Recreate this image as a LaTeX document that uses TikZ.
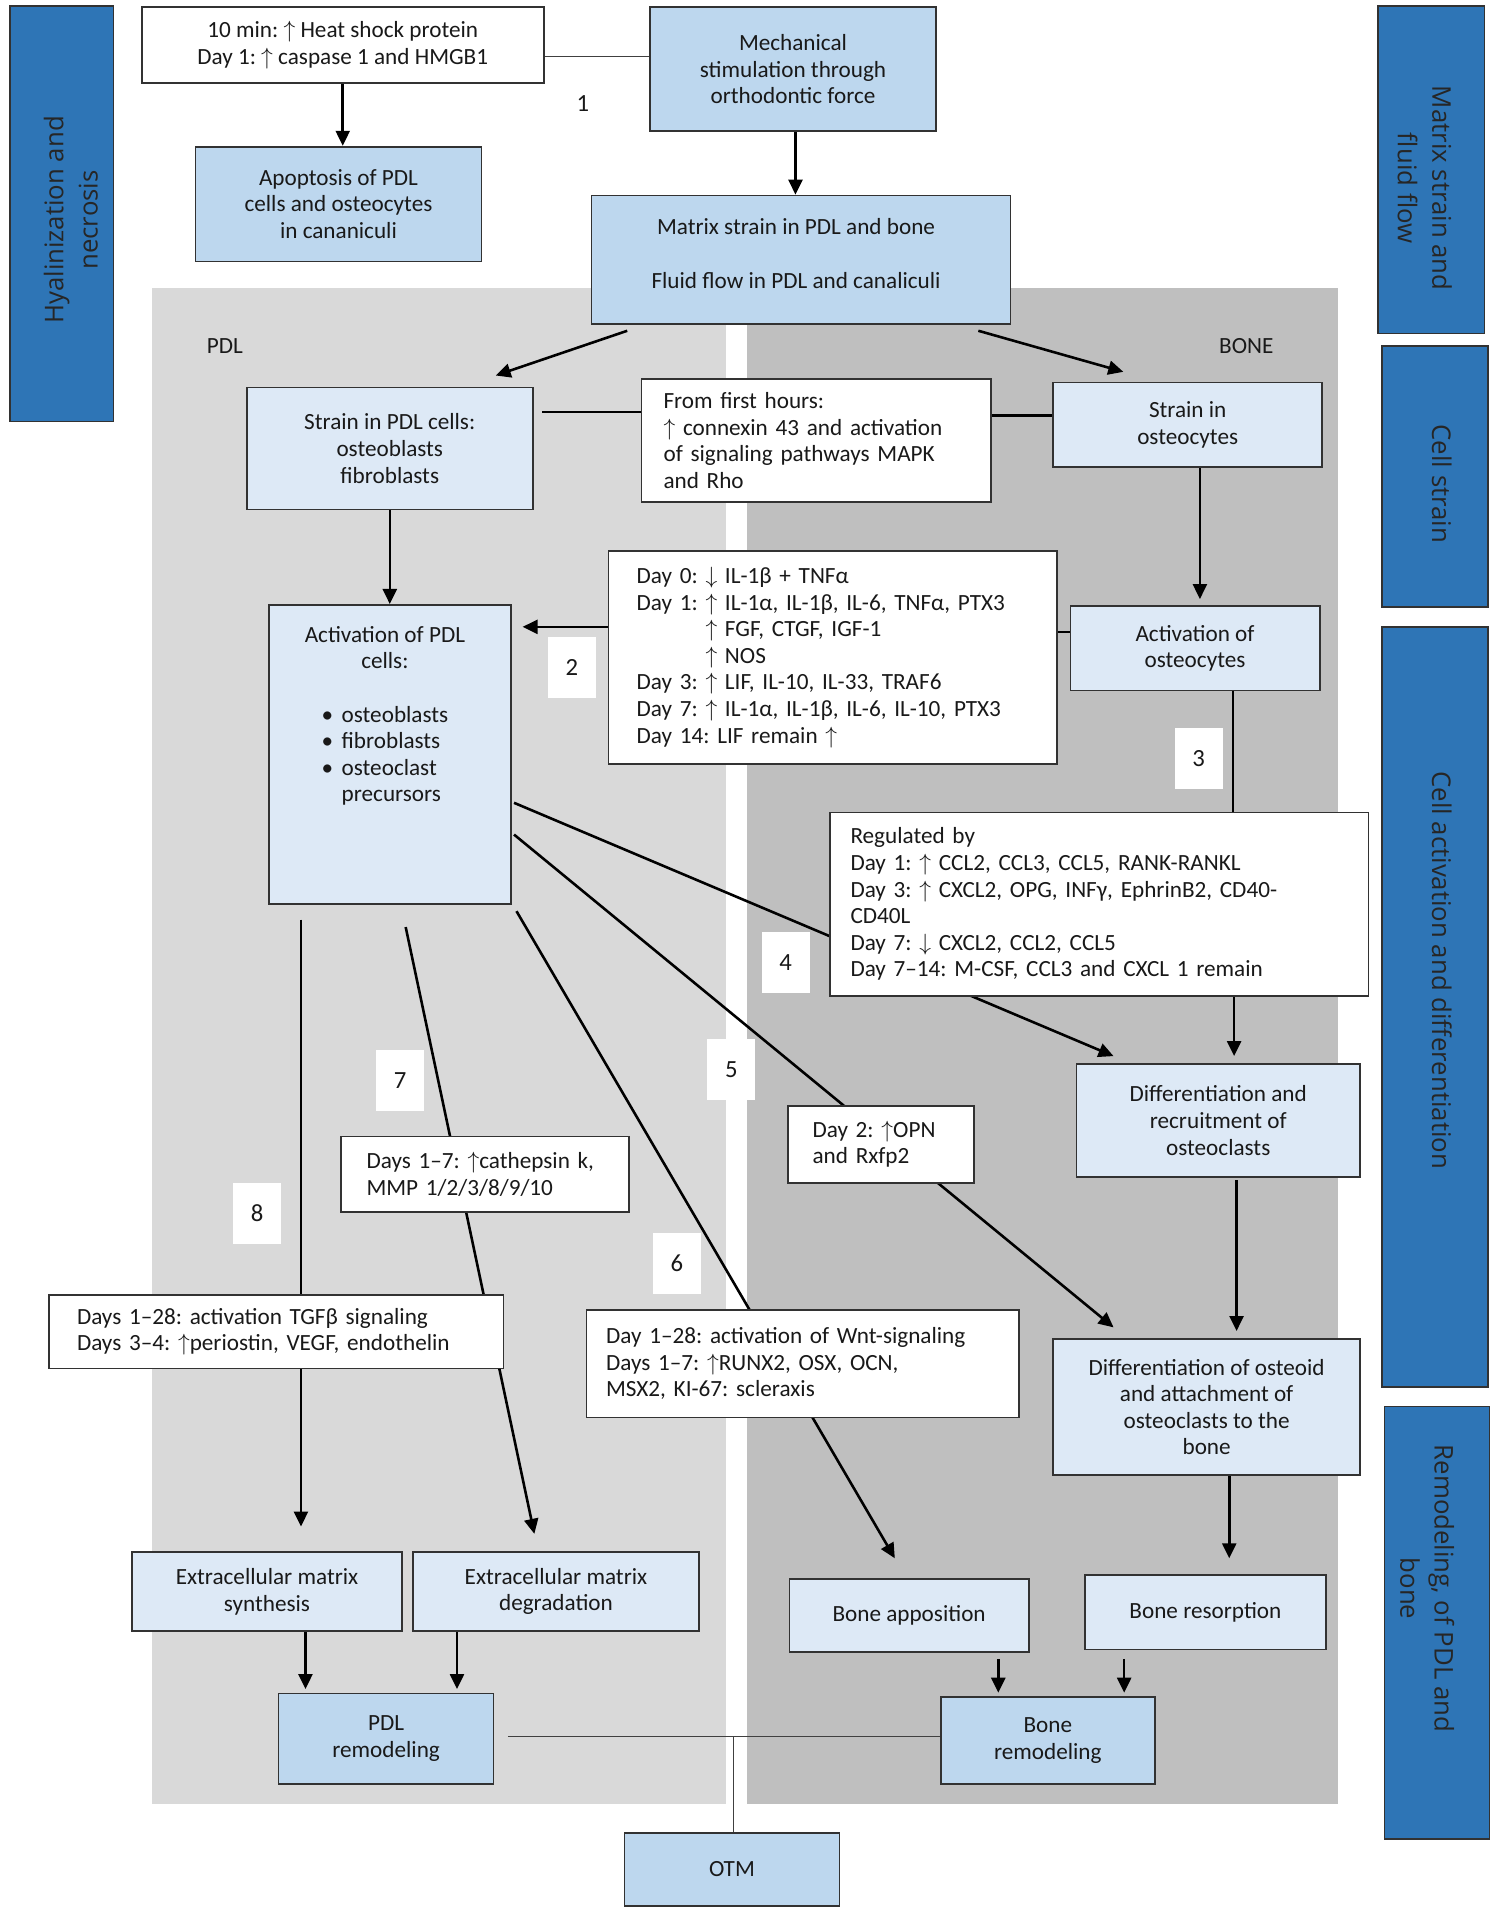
\documentclass[tikz,border=0pt]{standalone}
\usepackage{fontspec}
\setmainfont{Carlito}
\newfontfamily\sidefont{Open Sans}
\usetikzlibrary{arrows.meta,calc}
\pgfdeclarelayer{bg}
\pgfdeclarelayer{edges}
\pgfsetlayers{bg,edges,main}
\definecolor{sideblue}{RGB}{46,117,182}
\definecolor{midblue}{RGB}{189,215,238}
\definecolor{paleblue}{RGB}{221,233,246}
\definecolor{pdlgray}{RGB}{217,217,217}
\definecolor{bonegray}{RGB}{191,191,191}
\definecolor{ink}{RGB}{25,25,25}
\definecolor{edge}{RGB}{50,50,50}
\newcommand{\up}{$\uparrow$}
\newcommand{\dn}{$\downarrow$}
\frenchspacing
\begin{document}
\begin{tikzpicture}[x=0.02cm,y=-0.02cm,
  font=\fontsize{10.8}{12.4}\selectfont, text=ink,
  base/.style={draw=edge, line width=0.8pt, rectangle, inner sep=0pt, align=center},
  wbox/.style={base, fill=white},
  mbox/.style={base, fill=midblue},
  pbox/.style={base, fill=paleblue},
  side/.style={draw=edge, line width=0.8pt, fill=sideblue, inner sep=0pt},
  sidetxt/.style={font=\sidefont\fontsize{12}{16}\selectfont, align=center, text=black!85},
  num/.style={fill=white, inner sep=0pt, minimum width=0.78cm, minimum height=1cm, font=\fontsize{11.5}{13}\selectfont},
  arr/.style={draw=black, line width=1.2pt, -{Triangle[length=7pt,width=6.5pt]}},
  conn/.style={draw=black, line width=1.1pt},
  thinconn/.style={draw=black!75, line width=0.6pt}]
\useasboundingbox (0,0) rectangle (1230,1570.5);

% panels
\begin{pgfonlayer}{bg}
\fill[pdlgray] (124,236) rectangle (594,1476);
\fill[bonegray] (611,236) rectangle (1095,1476);
\end{pgfonlayer}
\node (pdllab) at (184,283) {PDL};
\node (bonelab) at (1020,283) {BONE};

% side bars
\node[side, minimum width=1.7cm, minimum height=6.8cm] (s1) at (50.5,175) {};
\node[sidetxt, rotate=90] (s1t) at (58,180) {Hyalinization and\\necrosis};
\node[side, minimum width=1.74cm, minimum height=5.36cm] (s2) at (1171.5,139) {};
\node[sidetxt, rotate=-90] (s2t) at (1166,154) {Matrix strain and\\fluid flow};
\node[side, minimum width=1.74cm, minimum height=4.28cm] (s3) at (1174.5,390) {};
\node[sidetxt, rotate=-90] (s3t) at (1180,396) {Cell strain};
\node[side, minimum width=1.74cm, minimum height=12.44cm] (s4) at (1174.5,824) {};
\node[sidetxt, rotate=-90] (s4t) at (1180,794) {Cell activation and differentiation};
\node[side, minimum width=1.72cm, minimum height=7.08cm] (s5) at (1176,1328) {};
\node[sidetxt, rotate=-90] (s5t) at (1168,1300) {Remodeling, of PDL and\\bone};

% top
\node[wbox, minimum width=6.58cm, minimum height=1.24cm] (tenmin) at (280.5,37)
  {10 min: \up\ Heat shock protein\\Day 1: \up\ caspase 1 and HMGB1};
\node[mbox, minimum width=4.68cm, minimum height=2.02cm] (mech) at (649,56.5)
  {Mechanical\\stimulation through\\orthodontic force};
\node[mbox, minimum width=4.68cm, minimum height=1.88cm] (apopt) at (277,167)
  {Apoptosis of PDL\\cells and osteocytes\\in cananiculi};
\node[mbox, minimum width=6.86cm, minimum height=2.1cm] (matrix) at (655.5,212.5) {};
\node[align=center] (matrixt) at ($(matrix.center)+(-4,-5)$)
  {Matrix strain in PDL and bone\\[12.4pt]Fluid flow in PDL and canaliculi};
\node[font=\fontsize{11.5}{13}\selectfont] (n1) at (477,85) {1};

% strain row
\node[pbox, minimum width=4.68cm, minimum height=2cm] (strainPDL) at (319,367)
  {Strain in PDL cells:\\osteoblasts\\fibroblasts};
\node[wbox, align=left, minimum width=5.72cm, minimum height=2.02cm, text width=5.0cm, inner xsep=0.36cm] (first) at (668,360.5)
  {From first hours:\\\up\ connexin 43 and activation\\of signaling pathways MAPK\\and Rho};
\node[pbox, minimum width=4.4cm, minimum height=1.38cm] (strainOst) at (972,347.5)
  {Strain in\\osteocytes};

% activation row
\node[pbox, minimum width=3.96cm, minimum height=4.9cm] (actPDL) at (319,617.5) {};
\node[anchor=north, align=center] (actPDLt) at ($(actPDL.north)+(-4,12)$)
  {Activation of PDL\\cells:\\[15pt]
   \begin{tabular}{@{}l@{\hspace{4pt}}l@{}}\textbullet & osteoblasts\\ \textbullet & fibroblasts\\ \textbullet & osteoclast\\ & precursors\end{tabular}};
\node[wbox, align=left, minimum width=7.34cm, minimum height=3.48cm, text width=6.42cm, inner xsep=0.46cm] (day0) at (681.5,538)
  {Day 0: \dn\ IL-1β + TNFα\\
   Day 1: \up\ IL-1α, IL-1β, IL-6, TNFα, PTX3\\
   \phantom{Day 1: }\up\ FGF, CTGF, IGF-1\\
   \phantom{Day 1: }\up\ NOS\\
   Day 3: \up\ LIF, IL-10, IL-33, TRAF6\\
   Day 7: \up\ IL-1α, IL-1β, IL-6, IL-10, PTX3\\
   Day 14: LIF remain \up};
\node[pbox, minimum width=4.08cm, minimum height=1.38cm] (actOst) at (978,530.5)
  {Activation of\\osteocytes};
\node[num] (n2) at (468,546) {2};
\node[num] (n3) at (981,621) {3};

\node[wbox, align=left, minimum width=8.82cm, minimum height=3.0cm, text width=8.14cm, inner xsep=0.34cm] (reg) at (899.5,740)
  {Regulated by\\
   Day 1: \up\ CCL2, CCL3, CCL5, RANK-RANKL\\
   Day 3: \up\ CXCL2, OPG, INFγ, EphrinB2, CD40-\\
   CD40L\\
   Day 7: \dn\ CXCL2, CCL2, CCL5\\
   Day 7–14: M-CSF, CCL3 and CXCL 1 remain};
\node[num] (n4) at (643,787.5) {4};
\node[num] (n5) at (598.5,875) {5};
\node[num] (n6) at (554,1034) {6};
\node[num] (n7) at (327.5,884) {7};
\node[num] (n8) at (210.5,993) {8};

\node[pbox, minimum width=4.64cm, minimum height=1.84cm] (diffRec) at (997,917)
  {Differentiation and\\recruitment of\\osteoclasts};
\node[wbox, align=left, minimum width=3.04cm, minimum height=1.26cm, text width=2.24cm, inner xsep=0.4cm] (day2) at (721,936.5)
  {Day 2: \up OPN\\and Rxfp2};
\node[wbox, align=left, minimum width=4.72cm, minimum height=1.24cm, text width=3.88cm, inner xsep=0.42cm] (cath) at (397,961)
  {Days 1–7: \up cathepsin k,\\MMP 1/2/3/8/9/10};
\node[wbox, align=left, minimum width=7.44cm, minimum height=1.2cm, text width=6.52cm, inner xsep=0.46cm] (tgf) at (226,1090)
  {Days 1–28: activation TGFβ signaling\\Days 3–4: \up periostin, VEGF, endothelin};
\node[wbox, align=left, minimum width=7.08cm, minimum height=1.76cm, text width=6.44cm, inner xsep=0.32cm] (wnt) at (657,1116)
  {Day 1–28: activation of Wnt-signaling\\Days 1–7: \up RUNX2, OSX, OCN,\\MSX2, KI-67: scleraxis};
\node[pbox, minimum width=5.02cm, minimum height=2.22cm] (diffOst) at (987.5,1151.5)
  {Differentiation of osteoid\\and attachment of\\osteoclasts to the\\bone};

% bottom
\node[pbox, minimum width=4.42cm, minimum height=1.3cm] (ecmSyn) at (218.5,1302.5)
  {Extracellular matrix\\synthesis};
\node[pbox, minimum width=4.68cm, minimum height=1.3cm] (ecmDeg) at (455,1302.5)
  {Extracellular matrix\\degradation};
\node[pbox, minimum width=3.92cm, minimum height=1.2cm] (boneApp) at (744,1322)
  {Bone apposition};
\node[pbox, minimum width=3.94cm, minimum height=1.22cm] (boneRes) at (986.5,1319.5)
  {Bone resorption};
\node[mbox, minimum width=3.52cm, minimum height=1.48cm] (pdlRem) at (316,1423)
  {PDL\\remodeling};
\node[mbox, minimum width=3.5cm, minimum height=1.42cm] (boneRem) at (857.5,1424.5)
  {Bone\\remodeling};
\node[mbox, minimum width=3.52cm, minimum height=1.2cm] (otm) at (599,1530) {OTM};

% connectors
\begin{pgfonlayer}{edges}
\draw[thinconn] ($(tenmin.east)+(0,9)$) coordinate (c1) -- (c1 -| mech.west);
\draw[arr] (tenmin.south) -- (tenmin.south |- apopt.north);
\draw[arr] ($(mech.south)+(2,0)$) coordinate (c2) -- (c2 |- matrix.north);
\draw[arr] ($(matrix.south west)+(30,5)$) -- ($(strainPDL.north east)+(-31,-9)$);
\draw[arr] ($(matrix.south east)+(-27,5)$) -- ($(strainOst.north west)+(58,-8)$);
\draw[conn] ($(strainPDL.north east)+(7,21)$) coordinate (c3) -- (c3 -| first.west);
\draw[conn] ($(strainOst.west)+(0,-7.5)$) coordinate (c4) -- (c4 -| first.east);
\draw[arr] (strainPDL.south) -- (actPDL.north);
\draw[arr] ($(strainOst.south)+(10,0)$) coordinate (c5) -- ($(c5 |- actOst.north)+(0,-5)$);
\draw[arr] ($(day0.west)+(0,-25)$) coordinate (c6) -- ($(c6 -| actPDL.east)+(9,0)$);
\draw[conn] ($(actOst.west)+(0,-13.5)$) coordinate (c7) -- (c7 -| day0.east);
\draw[conn] ($(actOst.south)+(31,0)$) coordinate (c8) -- (c8 |- reg.north);
\draw[arr] ($(reg.south)+(110.5,0)$) coordinate (c9) -- ($(c9 |- diffRec.north)+(0,-6)$);
\draw[arr] ($(actPDL.east)+(2,39.5)$) -- ($(diffRec.north west)+(31,-6)$);
\draw[arr] ($(actPDL.east)+(2,65.5)$) -- ($(diffOst.north west)+(50,-9)$);
\draw[arr] ($(actPDL.south east)+(4,5)$) -- ($(boneApp.north west)+(87,-16)$);
\draw[arr] ($(actPDL.south)+(13,18)$) -- ($(ecmDeg.north west)+(100,-14)$);
\draw[arr] ($(actPDL.south west)+(27,12)$) coordinate (c10) -- ($(c10 |- ecmSyn.north)+(0,-20)$);
\draw[arr] ($(diffRec.south)+(15,2)$) coordinate (c11) -- ($(c11 |- diffOst.north)+(0,-6)$);
\draw[arr] ($(diffOst.south)+(18.5,0)$) coordinate (c12) -- ($(c12 |- boneRes.north)+(0,-13)$);
\draw[arr] ($(ecmSyn.south)+(31.5,-5)$) coordinate (c13) -- ($(c13 |- pdlRem.north)+(0,-3)$);
\draw[arr] ($(ecmDeg.south)+(-81,0)$) coordinate (c14) -- ($(c14 |- pdlRem.north)+(0,-3)$);
\draw[arr] ($(boneApp.south)+(73,5)$) coordinate (c15) -- ($(c15 |- boneRem.north)+(0,-3)$);
\draw[arr] ($(boneRes.south)+(-66.5,7)$) coordinate (c16) -- ($(c16 |- boneRem.north)+(0,-3)$);
\draw[thinconn] ($(pdlRem.east)+(11,-2)$) coordinate (c17) -- (c17 -| boneRem.west);
\draw[thinconn] ($(otm.north)+(1,0)$) coordinate (c18) -- (c18 |- c17);
\end{pgfonlayer}
\end{tikzpicture}
\end{document}
